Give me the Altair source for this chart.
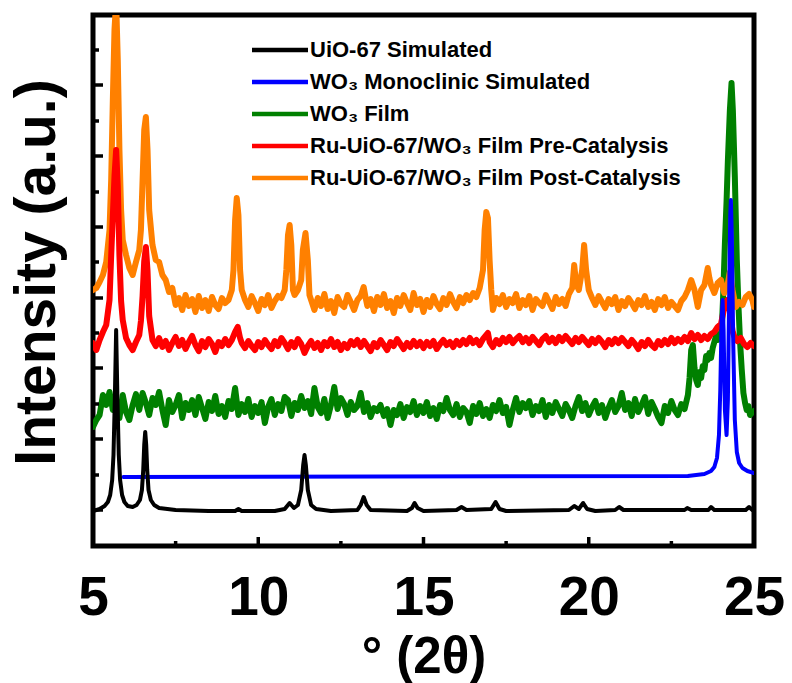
import altair as alt
import pandas as pd

# ---- series names and colours (legend order) ----
series_names = [
    "UiO-67 Simulated",
    "WO₃ Monoclinic Simulated",
    "WO₃ Film",
    "Ru-UiO-67/WO₃ Film Pre-Catalysis",
    "Ru-UiO-67/WO₃ Film Post-Catalysis",
]
series_colors = ["#000000", "#0000FF", "#008000", "#FF0000", "#FF8000"]

# ---- UiO-67 simulated pattern ----
uio_2theta = [5.00, 5.20, 5.35, 5.45, 5.52, 5.58, 5.62, 5.66, 5.70, 5.74, 5.78, 5.82, 5.88, 5.95,
              6.05, 6.20, 6.32, 6.42, 6.48, 6.52, 6.55, 6.58, 6.61, 6.64, 6.68, 6.75, 6.85, 7.0,
              7.5, 8.5, 9.3, 9.4, 9.5, 10.5, 10.8, 10.95, 11.08, 11.2, 11.3, 11.36, 11.40, 11.44,
              11.50, 11.6, 11.75, 12.2, 13.0, 13.1, 13.19, 13.28, 13.4, 14.5, 14.65, 14.73, 14.82,
              15.0, 16.0, 16.15, 16.3, 17.05, 17.18, 17.3, 17.5, 19.4, 19.56, 19.7, 19.83, 19.95,
              20.2, 20.8, 20.92, 21.05, 22.9, 22.98, 23.1, 23.62, 23.7, 23.8, 24.75, 24.85, 24.95, 25.0]
uio_int = [35, 37, 40, 44, 51, 66, 91, 146, 216, 146, 91, 66, 51, 44,
           40, 39, 41, 46, 56, 76, 101, 114, 101, 76, 56, 46, 41, 38,
           36, 35, 35, 37, 35, 35, 37, 43, 38, 41, 56, 81, 91, 81,
           56, 41, 37, 35, 36, 41, 49, 41, 36, 35, 38, 43, 38,
           35, 36, 39, 36, 37, 44, 37, 35, 36, 40, 37, 43, 37,
           35, 36, 39, 36, 36, 38, 36, 36, 39, 36, 36, 39, 36, 35]

# ---- WO3 monoclinic simulated pattern ----
wo3_sim_2theta = [5.92, 23.0, 23.5, 23.7, 23.8, 23.88, 23.94, 23.98, 24.02, 24.05, 24.08, 24.12,
                  24.17, 24.21, 24.25, 24.28, 24.30, 24.33, 24.37, 24.42, 24.48, 24.55, 24.65,
                  24.8, 25.0]
wo3_sim_int = [69, 70, 72, 75, 79, 88, 111, 156, 226, 246, 216, 136,
               111, 146, 256, 330, 346, 310, 206, 126, 94, 83, 78,
               75, 73]

# ---- WO3 film ----
film_2theta = [
    5.0, 5.1, 5.2, 5.3, 5.4, 5.5, 5.6, 5.7, 5.8, 5.9, 6.0, 6.1, 6.2, 6.3, 6.4, 6.5, 6.6, 6.7, 6.8, 6.9,
    7.0, 7.1, 7.2, 7.3, 7.4, 7.5, 7.6, 7.7, 7.8, 7.9, 8.0, 8.1, 8.2, 8.3, 8.4, 8.5, 8.6, 8.7, 8.8, 8.9,
    9.0, 9.1, 9.2, 9.3, 9.4, 9.5, 9.6, 9.7, 9.8, 9.9, 10.0, 10.1, 10.2, 10.3, 10.4, 10.5, 10.6, 10.7,
    10.8, 10.9, 11.0, 11.1, 11.2, 11.3, 11.4, 11.5, 11.6, 11.7, 11.8, 11.9, 12.0, 12.1, 12.2, 12.3,
    12.4, 12.5, 12.6, 12.7, 12.8, 12.9, 13.0, 13.1, 13.2, 13.3, 13.4, 13.5, 13.6, 13.7, 13.8, 13.9,
    14.0, 14.1, 14.2, 14.3, 14.4, 14.5, 14.6, 14.7, 14.8, 14.9, 15.0, 15.1, 15.2, 15.3, 15.4, 15.5,
    15.6, 15.7, 15.8, 15.9, 16.0, 16.1, 16.2, 16.3, 16.4, 16.5, 16.6, 16.7, 16.8, 16.9, 17.0, 17.1,
    17.2, 17.3, 17.4, 17.5, 17.6, 17.7, 17.8, 17.9, 18.0, 18.1, 18.2, 18.3, 18.4, 18.5, 18.6, 18.7,
    18.8, 18.9, 19.0, 19.1, 19.2, 19.3, 19.4, 19.5, 19.6, 19.7, 19.8, 19.9, 20.0, 20.1, 20.2, 20.3,
    20.4, 20.5, 20.6, 20.7, 20.8, 20.9, 21.0, 21.1, 21.2, 21.3, 21.4, 21.5, 21.6, 21.7, 21.8, 21.9,
    22.0, 22.1, 22.2, 22.3, 22.4, 22.5, 22.6, 22.7, 22.8, 22.9,
    23.0, 23.05, 23.1, 23.15, 23.2, 23.25, 23.3, 23.35, 23.4, 23.45, 23.5, 23.55, 23.6, 23.65, 23.7,
    23.75, 23.8, 23.85, 23.9, 23.95, 24.02, 24.07, 24.12, 24.17, 24.21, 24.27, 24.32, 24.36, 24.42,
    24.48, 24.53, 24.58, 24.63, 24.68, 24.73, 24.78, 24.83, 24.88, 24.93, 25.0]
film_int = [
    119, 126, 131, 151, 141, 154, 136, 146, 128, 151, 134, 126, 141, 152, 136, 153, 143, 131, 148, 141,
    154, 136, 121, 146, 134, 141, 151, 128, 143, 136, 146, 131, 149, 138, 127, 144, 135, 150, 132, 140,
    129, 145, 137, 158, 131, 142, 134, 147, 129, 140, 133, 144, 123, 139, 147, 131, 142, 135,
    149, 146, 130, 143, 136, 150, 138, 145, 132, 158, 139, 133, 147, 128, 141, 159,
    137, 148, 142, 131, 144, 136, 140, 153, 134, 143, 129, 138, 135, 141, 130, 137,
    121, 136, 131, 142, 128, 139, 134, 145, 131, 140, 133, 144, 130, 138, 127, 141,
    135, 148, 136, 131, 142, 129, 138, 134, 123, 140, 132, 143, 130, 137, 128, 141,
    135, 146, 133, 139, 121, 136, 148, 134, 143, 138, 145, 131, 140, 135, 146, 129,
    141, 133, 144, 137, 130, 142, 136, 128, 140, 149, 135, 143, 131, 139, 145, 133,
    141, 128, 138, 146, 134, 140, 153, 136, 143, 130, 147, 134, 141, 149, 132, 144,
    137, 129, 123, 140, 133, 145, 136, 131, 142, 137,
    151, 168, 196, 201, 178, 166, 161, 174, 168, 180, 176, 190, 186, 193, 188,
    198, 204, 210, 206, 212, 213, 253, 303, 345, 386, 436, 463, 436, 369,
    286, 240, 203, 176, 153, 143, 136, 140, 131, 133, 135]

# ---- Ru-UiO-67/WO3 film, pre-catalysis ----
pre_2theta = [
    5.0, 5.1, 5.2, 5.3, 5.4, 5.5, 5.55, 5.6, 5.65, 5.7, 5.75, 5.8, 5.85, 5.9, 6.0, 6.1, 6.2, 6.3, 6.4,
    6.45, 6.5, 6.55, 6.6, 6.65, 6.7, 6.8, 6.9, 7.0, 7.1, 7.2, 7.3, 7.4, 7.5, 7.6, 7.7, 7.8, 7.9, 8.0,
    8.1, 8.2, 8.3, 8.4, 8.5, 8.6, 8.7, 8.8, 8.9, 9.0, 9.1, 9.2, 9.3, 9.38, 9.45, 9.5, 9.6, 9.7, 9.8,
    9.9, 10.0, 10.1, 10.2, 10.3, 10.4, 10.5, 10.6, 10.7, 10.8, 10.9, 11.0, 11.1, 11.2, 11.3, 11.4,
    11.5, 11.6, 11.7, 11.8, 11.9, 12.0, 12.1, 12.2, 12.3, 12.4, 12.5, 12.6, 12.7, 12.8, 12.9, 13.0,
    13.1, 13.2, 13.3, 13.4, 13.5, 13.6, 13.7, 13.8, 13.9, 14.0, 14.1, 14.2, 14.3, 14.4, 14.5, 14.6,
    14.7, 14.8, 14.9, 15.0, 15.1, 15.2, 15.3, 15.4, 15.5, 15.6, 15.7, 15.8, 15.9, 16.0, 16.1, 16.2,
    16.3, 16.4, 16.5, 16.6, 16.7, 16.8, 16.9, 16.95, 17.0, 17.1, 17.2, 17.3, 17.4, 17.5, 17.6, 17.7,
    17.8, 17.9, 18.0, 18.1, 18.2, 18.3, 18.4, 18.5, 18.6, 18.7, 18.8, 18.9, 19.0, 19.1, 19.2, 19.3,
    19.4, 19.5, 19.6, 19.7, 19.8, 19.9, 20.0, 20.1, 20.2, 20.3, 20.4, 20.5, 20.6, 20.7, 20.8, 20.9,
    21.0, 21.1, 21.2, 21.3, 21.4, 21.5, 21.6, 21.7, 21.8, 21.9, 22.0, 22.1, 22.2, 22.3, 22.4, 22.5,
    22.6, 22.7, 22.8, 22.9, 23.0, 23.1, 23.2, 23.3, 23.4, 23.5, 23.6, 23.7, 23.8, 23.9, 24.0, 24.05,
    24.1, 24.15, 24.2, 24.25, 24.3, 24.35, 24.4, 24.5, 24.6, 24.7, 24.8, 24.9, 25.0]
pre_int = [
    203, 196, 206, 214, 221, 246, 290, 330, 370, 396, 360, 290, 245, 226, 208, 201, 196, 204, 211,
    225, 250, 285, 299, 275, 230, 206, 200, 208, 199, 205, 196, 203, 209, 200, 206, 197, 204, 210,
    201, 195, 205, 199, 207, 202, 194, 204, 200, 207, 201, 206, 214, 219, 208, 203, 198, 205, 200,
    196, 204, 199, 206, 201, 197, 205, 200, 208, 203, 197, 204, 199, 207, 202, 193,
    200, 205, 198, 203, 196, 204, 200, 207, 199, 204, 196, 202, 198, 205, 201, 206,
    199, 205, 200, 195, 203, 199, 206, 201, 196, 204, 200, 207, 202, 197, 203, 199,
    205, 200, 204, 198, 204, 200, 205, 197, 202, 206, 201, 204, 199, 205, 201, 206,
    202, 208, 203, 206, 201, 207, 211, 213, 204, 199, 206, 202, 208, 204, 209, 203,
    207, 210, 204, 208, 203, 209, 205, 201, 207, 210, 204, 208, 203, 209, 205, 210,
    206, 202, 208, 204, 209, 205, 201, 207, 203, 208, 204, 199, 206, 202, 207, 203,
    208, 204, 200, 206, 202, 197, 204, 200, 206, 201, 198, 205, 201, 206, 202, 208,
    203, 207, 204, 209, 205, 213, 207, 211, 206, 210, 207, 212, 214, 219, 222, 230,
    238, 244, 246, 240, 228, 215, 210, 205, 208, 202, 199, 203, 200]

# ---- Ru-UiO-67/WO3 film, post-catalysis ----
post_2theta = [
    5.0, 5.1, 5.2, 5.3, 5.4, 5.5, 5.55, 5.6, 5.65, 5.7, 5.75, 5.8, 5.85, 5.9, 6.0, 6.1, 6.2, 6.3, 6.4,
    6.45, 6.5, 6.55, 6.6, 6.65, 6.7, 6.8, 6.9, 7.0, 7.1, 7.2, 7.3, 7.4, 7.5, 7.6, 7.7, 7.8, 7.9, 8.0,
    8.1, 8.2, 8.3, 8.4, 8.5, 8.6, 8.7, 8.8, 8.9, 9.0, 9.1, 9.2, 9.25, 9.3, 9.35, 9.4, 9.45, 9.5, 9.6,
    9.7, 9.8, 9.9, 10.0, 10.1, 10.2, 10.3, 10.4, 10.5, 10.6, 10.7, 10.8, 10.85, 10.9, 10.95, 11.0,
    11.05, 11.1, 11.2, 11.3, 11.35, 11.43, 11.5, 11.55, 11.6, 11.7, 11.8, 11.9, 12.0, 12.1, 12.2,
    12.3, 12.4, 12.5, 12.6, 12.7, 12.8, 12.9, 13.0, 13.1, 13.19, 13.25, 13.3, 13.4, 13.5, 13.6, 13.7,
    13.8, 13.9, 14.0, 14.1, 14.2, 14.3, 14.4, 14.5, 14.6, 14.7, 14.8, 14.9, 15.0, 15.1, 15.2, 15.3,
    15.4, 15.5, 15.6, 15.7, 15.8, 15.9, 16.0, 16.1, 16.2, 16.3, 16.4, 16.5, 16.6, 16.7, 16.8, 16.85,
    16.9, 16.95, 17.0, 17.05, 17.1, 17.2, 17.3, 17.4, 17.5, 17.6, 17.7, 17.8, 17.9, 18.0, 18.1, 18.2,
    18.3, 18.4, 18.5, 18.6, 18.7, 18.8, 18.9, 19.0, 19.1, 19.2, 19.3, 19.4, 19.5, 19.56, 19.62, 19.7,
    19.8, 19.86, 19.92, 20.0, 20.1, 20.2, 20.3, 20.4, 20.5, 20.6, 20.7, 20.8, 20.9, 21.0, 21.1, 21.2,
    21.3, 21.4, 21.5, 21.6, 21.7, 21.8, 21.9, 22.0, 22.1, 22.2, 22.3, 22.4, 22.5, 22.6, 22.7, 22.8,
    22.9, 23.0, 23.1, 23.2, 23.3, 23.4, 23.5, 23.6, 23.65, 23.7, 23.8, 23.9, 24.0, 24.1, 24.2, 24.27,
    24.35, 24.45, 24.55, 24.65, 24.75, 24.85, 24.95, 25.0]
post_int = [
    256, 258, 264, 271, 284, 316, 366, 446, 516, 545, 486, 396, 336, 306, 291, 278, 271, 284, 296,
    316, 366, 416, 429, 396, 336, 301, 286, 284, 271, 266, 254, 258, 241, 248, 236, 251, 240, 247,
    234, 250, 238, 246, 235, 249, 241, 237, 248, 243, 246, 256, 276, 326, 348, 331, 276, 256, 246,
    239, 250, 243, 235, 247, 241, 251, 238, 245, 250, 248, 256, 276, 311, 321, 301,
    256, 251, 256, 266, 296, 313, 286, 251, 246, 236, 248, 240, 252, 237, 245,
    233, 249, 242, 239, 251, 244, 236, 246, 250, 259, 248, 240, 247, 235, 249, 241,
    252, 238, 245, 233, 248, 240, 251, 243, 236, 253, 241, 247, 234, 246, 239, 250,
    242, 237, 248, 241, 252, 244, 238, 249, 243, 251, 246, 253, 249, 258, 276, 316,
    334, 328, 286, 256, 236, 248, 242, 251, 239, 247, 243, 252, 238, 246, 241, 250,
    236, 247, 243, 240, 251, 244, 237, 249, 242, 247, 240, 252, 258, 281, 262, 256,
    276, 301, 276, 256, 248, 241, 250, 244, 238, 247, 242, 249, 236, 245, 240, 248,
    243, 237, 246, 241, 250, 239, 244, 236, 247, 241, 249, 238, 244, 240, 236, 245,
    249, 256, 266, 256, 239, 256, 261, 278, 268, 261, 253, 263, 266, 253, 261, 274,
    256, 239, 244, 241, 249, 252, 246, 239]

# ---- axis tick values (data units) ----
x_label_values = [5, 10, 15, 20, 25]
x_major_ticks = [10, 15, 20]
x_minor_ticks = [7.5, 12.5, 17.5, 22.5]
y_major_ticks = [36, 107, 178, 248, 319, 390, 461]
y_minor_ticks = [71, 142, 213, 284, 354, 425, 496]

FONT = "Liberation Sans"
X_DOMAIN = [5, 25]
Y_DOMAIN = [0, 531]

traces = {
    series_names[0]: (uio_2theta, uio_int),
    series_names[1]: (wo3_sim_2theta, wo3_sim_int),
    series_names[2]: (film_2theta, film_int),
    series_names[3]: (pre_2theta, pre_int),
    series_names[4]: (post_2theta, post_int),
}
line_widths = {
    series_names[0]: 4,
    series_names[1]: 4,
    series_names[2]: 6,
    series_names[3]: 6,
    series_names[4]: 6,
}

color = alt.Color(
    "series:N",
    scale=alt.Scale(domain=series_names, range=series_colors),
    legend=alt.Legend(
        title=None,
        orient="none",
        legendX=155,
        legendY=24,
        padding=0,
        symbolType="M-1,0H7",
        symbolSize=196,
        symbolStrokeWidth=4.5,
        labelFont=FONT,
        labelFontSize=22,
        labelFontWeight="bold",
        labelColor="black",
        labelOffset=40,
        rowPadding=10,
        labelLimit=600,
    ),
)

x_axis = alt.Axis(
    values=x_label_values,
    format="d",
    ticks=False,
    domain=False,
    grid=False,
    labelFont=FONT,
    labelFontSize=55,
    labelFontWeight="bold",
    labelColor="black",
    labelBaseline="alphabetic",
    labelPadding=68,
    labelFlush=False,
    labelOverlap=False,
    title="° (2θ)",
    titleFont=FONT,
    titleFontSize=51,
    titleFontWeight="bold",
    titleColor="black",
    titleBaseline="alphabetic",
    titleY=126,
)
y_axis = alt.Axis(
    labels=False,
    ticks=False,
    domain=False,
    grid=False,
    title="Intensity (a.u.)",
    titleFont=FONT,
    titleFontSize=57,
    titleFontWeight="bold",
    titleColor="black",
    titleBaseline="alphabetic",
    titleX=-39,
    titleY=257,
)
x_scale = alt.Scale(domain=X_DOMAIN, nice=False, zero=False)
y_scale = alt.Scale(domain=Y_DOMAIN, nice=False, zero=False)

# draw order: film traces first, simulated patterns on top
draw_order = [series_names[2], series_names[4], series_names[3], series_names[1], series_names[0]]
layers = []
for name in draw_order:
    xs, ys = traces[name]
    df = pd.DataFrame({"two_theta": xs, "intensity": ys, "series": name})
    layers.append(
        alt.Chart(df)
        .mark_line(strokeWidth=line_widths[name], clip=True, strokeJoin="round", strokeCap="round")
        .encode(
            x=alt.X("two_theta:Q", scale=x_scale, axis=x_axis),
            y=alt.Y("intensity:Q", scale=y_scale, axis=y_axis),
            color=color,
        )
    )

# inward-pointing tick marks on the left and bottom frame
def y_tick_layer(values, length):
    return alt.Chart(pd.DataFrame({"intensity": values})).mark_rule(color="black", strokeWidth=3.5).encode(
        y=alt.Y("intensity:Q", scale=y_scale, axis=y_axis), x=alt.value(0), x2=alt.value(length))


def x_tick_layer(values, length):
    return alt.Chart(pd.DataFrame({"two_theta": values})).mark_rule(color="black", strokeWidth=3.5).encode(
        x=alt.X("two_theta:Q", scale=x_scale, axis=x_axis), y=alt.value(531), y2=alt.value(531 - length))


chart = (
    alt.layer(
        *layers,
        y_tick_layer(y_major_ticks, 10),
        y_tick_layer(y_minor_ticks, 6),
        x_tick_layer(x_major_ticks, 9),
        x_tick_layer(x_minor_ticks, 5),
    )
    .properties(
        width=661,
        height=531,
        padding={"left": 93, "top": 15, "right": 38, "bottom": 137},
        autosize=alt.AutoSizeParams(type="none"),
        background="white",
    )
    .configure_view(stroke="black", strokeWidth=5)
)

chart.save("out.html", embed_options={"renderer": "svg", "actions": False})
